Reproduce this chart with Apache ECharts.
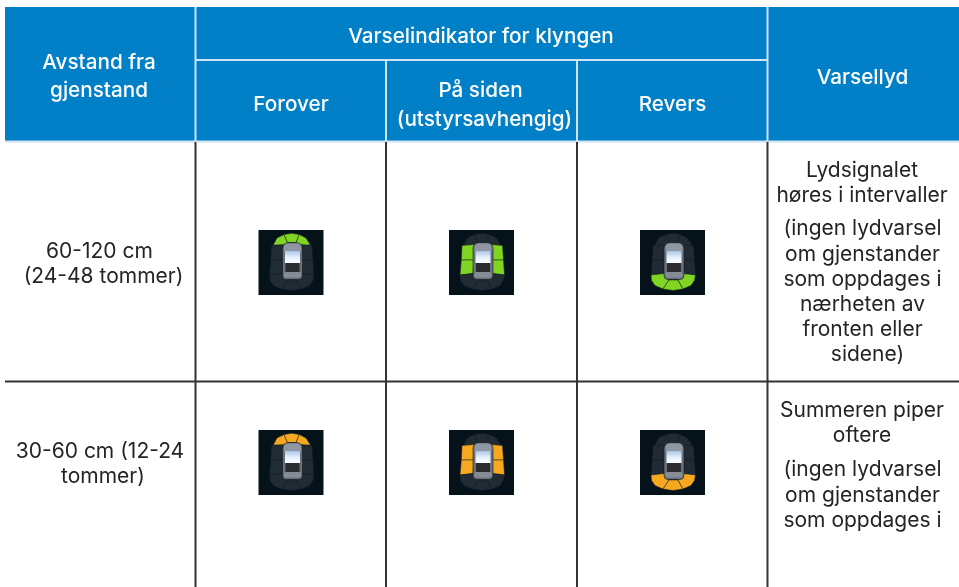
<!DOCTYPE html>
<html>
<head>
<meta charset="utf-8">
<style>
  html, body { margin: 0; padding: 0; background: #fff; }
  #main { width: 959px; height: 587px; }
</style>
<script src="https://cdn.jsdelivr.net/npm/echarts@6/dist/echarts.min.js"></script>
</head>
<body>
<div id="main"></div>
<script>
// table content
const distanceHeader = ['Avstand fra', 'gjenstand'];
const groupHeader = 'Varselindikator for klyngen';
const directionHeaders = [['Forover'], ['På siden', '(utstyrsavhengig)'], ['Revers']];
const soundHeader = 'Varsellyd';
const distanceRows = [['60-120 cm', '(24-48 tommer)'], ['30-60 cm (12-24', 'tommer)']];
const soundFirst = [['Lydsignalet', 'høres i intervaller'], ['Summeren piper', 'oftere']];
const soundSecond = [
  ['(ingen lydvarsel', 'om gjenstander', 'som oppdages i', 'nærheten av', 'fronten eller', 'sidene)'],
  ['(ingen lydvarsel', 'om gjenstander', 'som oppdages i']
];
const rowColors = ['#80d422', '#f6a91f'];
// which sensor zones light up for each direction column
const activeZones = [['fl', 'fm', 'fr'], ['lt', 'lb', 'rt', 'rb'], ['bl', 'bm', 'br']];

// layout
const W = 959, H = 587;
const colX = [195.5, 386, 577, 767.5];
const colMid = [291, 481.5, 672.5];
const rowTop = [141, 381.5];
const iconY = [230, 430];
const ICON = 65;

// sensor zones in icon-local pixels
const zones = {
  fl: [[14.7, 15], [18.5, 8], [25.5, 4.6], [29, 12.5], [25, 15.5]],
  fm: [[25.5, 4.6], [33, 3.2], [40.8, 4.6], [37.5, 12.5], [29, 12.5]],
  fr: [[40.8, 4.6], [47.5, 8], [52, 15], [42, 15.5], [37.5, 12.5]],
  lt: [[13, 15.5], [25, 14.5], [25, 30], [12.3, 30]],
  lb: [[12.3, 30], [25, 30], [24, 43.5], [11, 45]],
  rt: [[42, 14.5], [53.5, 15.5], [54.5, 30], [42, 30]],
  rb: [[42, 30], [54.5, 30], [55.5, 45], [43, 43.5]],
  bl: [[11, 45], [24, 43.5], [29, 50], [23, 59], [15, 55.5], [11.5, 50.5]],
  bm: [[29, 50], [38, 50], [43, 59], [33, 60.5], [23, 59]],
  br: [[38, 50], [43, 43.5], [55.5, 45], [54.5, 50.5], [51, 55.5], [43, 59]]
};

function iconChildren(active, color) {
  const kids = [{ type: 'rect', shape: { x: 0, y: 0, width: ICON, height: ICON }, style: { fill: '#05121a' } }];
  Object.keys(zones).forEach(function (k) {
    kids.push({
      type: 'polygon',
      shape: { points: zones[k] },
      style: { fill: active.indexOf(k) >= 0 ? color : '#202b33', stroke: '#131f27', lineWidth: 0.5 }
    });
  });
  // car seen from above
  kids.push({ type: 'rect', shape: { x: 24, y: 12.5, width: 20, height: 37, r: [6, 6, 4, 4] }, style: { fill: '#6a717a', stroke: '#14181c', lineWidth: 0.6 } });
  kids.push({ type: 'rect', shape: { x: 25.5, y: 13.5, width: 17, height: 8, r: [4, 4, 0, 0] }, style: { fill: '#8d96a1' } });
  kids.push({
    type: 'rect',
    shape: { x: 26.5, y: 21, width: 15, height: 12 },
    style: { fill: new echarts.graphic.LinearGradient(0, 0, 0, 1, [{ offset: 0, color: '#a9c4e6' }, { offset: 0.5, color: '#e2eefb' }, { offset: 1, color: '#fbfdff' }]) }
  });
  kids.push({ type: 'rect', shape: { x: 27, y: 33, width: 14, height: 9 }, style: { fill: '#2a2b2e' } });
  kids.push({ type: 'rect', shape: { x: 25.5, y: 42, width: 17, height: 5.5, r: 1.5 }, style: { fill: '#858c94' } });
  return kids;
}

// flat lists of what the custom series draw
const headerTexts = [];
distanceHeader.forEach(function (t, i) { headerTexts.push([99, 63 + i * 28, t]); });
headerTexts.push([481, 37, groupHeader]);
directionHeaders.forEach(function (lines, c) {
  lines.forEach(function (t, i) {
    const y = lines.length === 1 ? 105 : 91 + i * 28.5;
    headerTexts.push([i === 1 ? colMid[c] + 3 : colMid[c] + (lines.length === 1 ? 0 : -1), y, t]);
  });
});
headerTexts.push([862.5, 78, soundHeader]);

const bodyTexts = [];
distanceRows.forEach(function (lines, r) {
  lines.forEach(function (t, i) {
    bodyTexts.push([r === 0 ? (i === 0 ? 99.5 : 103.5) : (i === 0 ? 100 : 103), iconY[r] + 22 + i * 25, t]);
  });
});
const soundStart = [[171, 229], [411, 470]];
soundFirst.forEach(function (lines, r) {
  lines.forEach(function (t, i) { bodyTexts.push([862, soundStart[r][0] + i * 25, t]); });
});
soundSecond.forEach(function (lines, r) {
  lines.forEach(function (t, i) {
    bodyTexts.push([t === 'sidene)' ? 867.5 : 862.5, soundStart[r][1] + i * 25.2, t]);
  });
});

const icons = [];
rowColors.forEach(function (color, r) {
  activeZones.forEach(function (zs, c) { icons.push([colMid[c], iconY[r], c, r]); });
});

const lightLines = [
  [colX[0], 7, colX[0], 141], [colX[3], 7, colX[3], 141],
  [colX[1], 60, colX[1], 141], [colX[2], 60, colX[2], 141],
  [colX[0], 60, colX[3], 60], [5, 141.5, W, 141.5]
];
const darkLines = [
  [colX[0], 142, colX[0], H], [colX[1], 142, colX[1], H],
  [colX[2], 142, colX[2], H], [colX[3], 142, colX[3], H],
  [5, rowTop[1], W, rowTop[1]]
];

function lineSeries(data, color, width) {
  return {
    type: 'custom', silent: true, data: data,
    renderItem: function (params, api) {
      const a = api.coord([api.value(0), api.value(1)]);
      const b = api.coord([api.value(2), api.value(3)]);
      return { type: 'line', shape: { x1: a[0], y1: a[1], x2: b[0], y2: b[1] }, style: { stroke: color, lineWidth: width } };
    }
  };
}

function textSeries(data, color, font) {
  return {
    type: 'custom', silent: true, data: data,
    encode: { x: 0, y: 1 },
    renderItem: function (params, api) {
      const p = api.coord([data[params.dataIndex][0], data[params.dataIndex][1]]);
      return {
        type: 'text', x: p[0], y: p[1],
        style: {
          text: data[params.dataIndex][2], fill: color, align: 'center', verticalAlign: 'middle',
          font: font + ' Inter, "Noto Sans", sans-serif'
        }
      };
    }
  };
}

const chart = echarts.init(document.getElementById('main'), null, { renderer: 'canvas' });
chart.setOption({
  animation: false,
  backgroundColor: '#ffffff',
  grid: { left: 0, right: 0, top: 0, bottom: 0 },
  xAxis: { type: 'value', min: 0, max: W, show: false },
  yAxis: { type: 'value', min: 0, max: H, inverse: true, show: false },
  series: [
    {
      type: 'custom', silent: true, data: [[5, 7, W, 141]],
      renderItem: function (params, api) {
        const a = api.coord([api.value(0), api.value(1)]);
        const b = api.coord([api.value(2), api.value(3)]);
        return { type: 'rect', shape: { x: a[0], y: a[1], width: b[0] - a[0], height: b[1] - a[1] }, style: { fill: '#0180c8' } };
      }
    },
    lineSeries(lightLines, '#cfe4f3', 2),
    lineSeries(darkLines, '#333333', 2),
    textSeries(headerTexts, '#ffffff', '500 20.7px'),
    textSeries(bodyTexts, '#242424', '400 21px'),
    {
      type: 'custom', silent: true, data: icons,
      renderItem: function (params, api) {
        const p = api.coord([api.value(0), api.value(1)]);
        const c = api.value(2), r = api.value(3);
        return { type: 'group', x: p[0] - ICON / 2, y: p[1], children: iconChildren(activeZones[c], rowColors[r]) };
      }
    }
  ]
});
</script>
</body>
</html>
